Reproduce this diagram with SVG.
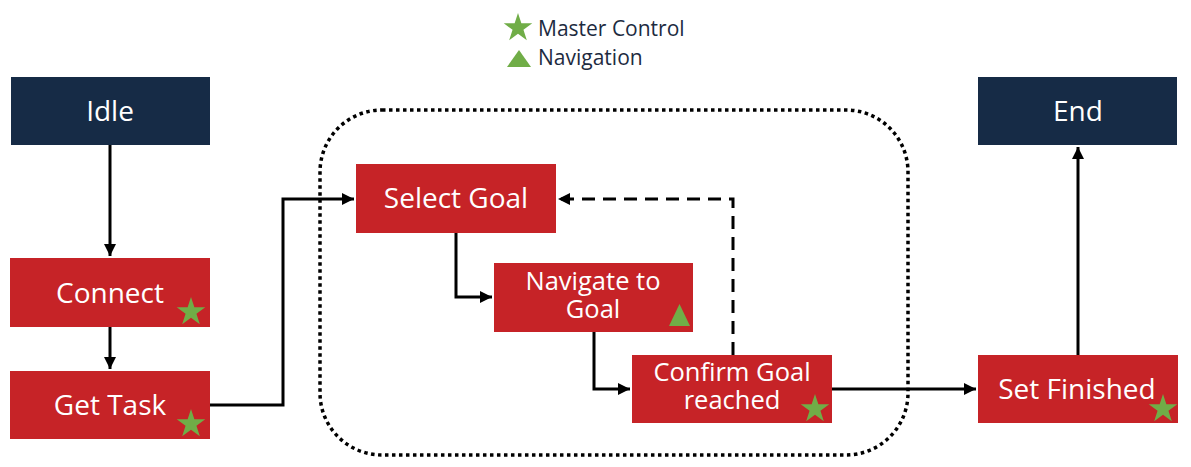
<svg xmlns="http://www.w3.org/2000/svg" width="1191" height="467" viewBox="0 0 1191 467">
<style>
.dark{fill:#162B46}
.red{fill:#C62327}
.lbl{font-family:"Open Sans","Noto Sans",sans-serif;font-size:28px;fill:#fff;text-anchor:middle}
.lbl2{font-family:"Open Sans","Noto Sans",sans-serif;font-size:25.5px;fill:#fff;text-anchor:middle}
.leg{font-family:"Open Sans","Noto Sans",sans-serif;font-size:21px;fill:#1d2b3f}
.mark{fill:#70AD47}
.ln{fill:none;stroke:#000;stroke-width:3}
.dash{fill:none;stroke:#000;stroke-width:3;stroke-dasharray:13 8}
.dot{fill:none;stroke:#000;stroke-width:3.5;stroke-dasharray:3.5 3.5}
</style>
<defs>
<path id="star" d="M0,-15 L3.37,-4.64 L14.27,-4.64 L5.45,1.77 L8.82,12.14 L0,5.73 L-8.82,12.14 L-5.45,1.77 L-14.27,-4.64 L-3.37,-4.64 Z"/>
<marker id="ah" viewBox="0 0 10 10" refX="10" refY="5" markerWidth="4" markerHeight="4" orient="auto" markerUnits="strokeWidth">
<path d="M0,0 L10,5 L0,10 Z" fill="#000"/>
</marker>
</defs>

<g id="legend">
<use href="#star" class="mark" x="518" y="28"/>
<text class="leg" x="538" y="36">Master Control</text>
<path class="mark" d="M507,67 L519,50 L531,67 Z"/>
<text class="leg" x="538" y="65">Navigation</text>
</g>

<g id="group-boundary">
<rect class="dot" x="320" y="110" width="588" height="345" rx="62" ry="62"/>
</g>

<g id="connectors">
<path class="ln" d="M110,145 V256" marker-end="url(#ah)"/>
<path class="ln" d="M110,327 V369" marker-end="url(#ah)"/>
<path class="ln" d="M210,405 H283 V199 H354" marker-end="url(#ah)"/>
<path class="ln" d="M456,233 V297 H492" marker-end="url(#ah)"/>
<path class="ln" d="M594,332 V389 H630" marker-end="url(#ah)"/>
<path class="dash" d="M733,355 V199 H558" marker-end="url(#ah)"/>
<path class="ln" d="M832,389 H976" marker-end="url(#ah)"/>
<path class="ln" d="M1078,355 V147" marker-end="url(#ah)"/>
</g>

<g id="idle">
<rect class="dark" x="11" y="77" width="199" height="68"/>
<text class="lbl" x="110" y="121">Idle</text>
</g>
<g id="end">
<rect class="dark" x="978" y="77" width="199" height="68"/>
<text class="lbl" x="1078" y="121">End</text>
</g>
<g id="connect">
<rect class="red" x="10" y="258" width="200" height="69"/>
<text class="lbl" x="110" y="303">Connect</text>
<use href="#star" class="mark" x="191" y="312"/>
</g>
<g id="get-task">
<rect class="red" x="10" y="371" width="200" height="68"/>
<text class="lbl" x="110" y="415">Get Task</text>
<use href="#star" class="mark" x="191" y="424"/>
</g>
<g id="select-goal">
<rect class="red" x="356" y="164" width="200" height="69"/>
<text class="lbl" x="456" y="208">Select Goal</text>
</g>
<g id="navigate-to-goal">
<rect class="red" x="494" y="263" width="199" height="69"/>
<text class="lbl2" x="593" y="290"><tspan x="593">Navigate to</tspan><tspan x="593" dy="28">Goal</tspan></text>
<path class="mark" d="M669,326 L679.5,304 L690,326 Z"/>
</g>
<g id="confirm-goal-reached">
<rect class="red" x="632" y="355" width="200" height="68"/>
<text class="lbl2" x="732" y="381"><tspan x="732">Confirm Goal</tspan><tspan x="732" dy="28">reached</tspan></text>
<use href="#star" class="mark" x="815" y="409"/>
</g>
<g id="set-finished">
<rect class="red" x="978" y="355" width="200" height="68"/>
<text class="lbl" x="1077" y="399">Set Finished</text>
<use href="#star" class="mark" x="1163" y="409"/>
</g>
</svg>
